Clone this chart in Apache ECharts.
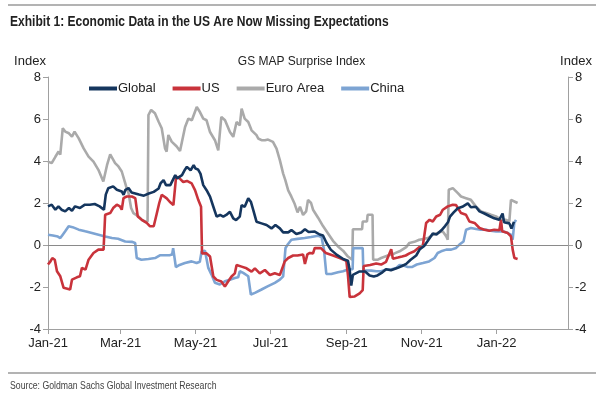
<!DOCTYPE html>
<html>
<head>
<meta charset="utf-8">
<script src="https://cdn.jsdelivr.net/npm/echarts@6/dist/echarts.min.js"></script>
<style>
html,body{margin:0;padding:0;background:#fff;}
#chart{width:603px;height:394px;}
</style>
</head>
<body>
<div id="chart"></div>
<script>
// x values are days since 2021-01-01
const xTickDays = [0, 59, 120, 181, 243, 304, 365];
const xTickLabels = ['Jan-21', 'Mar-21', 'May-21', 'Jul-21', 'Sep-21', 'Nov-21', 'Jan-22'];
const yTicks = [-4, -2, 0, 2, 4, 6, 8];
const seriesNames = ['Global', 'US', 'Euro Area', 'China'];

const globalData = [[0,1.84],[3,1.92],[6,1.68],[8.5,1.84],[11,1.68],[14,1.6],[17,1.76],[19.5,1.63],[22,1.84],[26,1.76],[30,1.92],[34,1.92],[38,1.95],[42,1.84],[45.5,1.68],[47,2.4],[49,2.7],[53,2.79],[56,2.63],[60,2.55],[61.5,2.39],[63,2.63],[65.5,2.71],[68,2.5],[74,2.4],[78,2.35],[82,2.45],[86,2.53],[90,2.69],[91.5,2.93],[94,3.09],[96,2.85],[99.5,2.85],[103.5,3.33],[105,3.17],[109,3.33],[111.5,3.6],[113,3.72],[116,3.56],[118.5,3.8],[120,3.64],[122,3.6],[124,3.4],[126.3,2.85],[129,2.61],[131.8,2.3],[134.5,1.82],[137.2,1.35],[140,1.43],[142.6,1.35],[145,1.43],[148,1.58],[150.7,1.27],[153,1.19],[156,1.35],[157.5,1.9],[160,1.82],[162.9,2.22],[165,2.06],[167,1.66],[169.6,1.11],[173.7,1.03],[177.8,0.95],[181.8,0.79],[185,0.95],[188.6,0.79],[191.3,0.6],[195.4,0.6],[198,0.71],[202,0.52],[206,0.6],[209,0.75],[212,0.62],[217,0.64],[221,0.5],[223.7,0.45],[226.4,0.12],[230,-0.22],[235,-0.47],[240.5,-0.68],[244,-0.75],[245.4,-1.18],[246.7,-1.93],[248,-1.42],[253.5,-1.26],[258,-1.26],[261.6,-1.45],[265,-1.5],[268,-1.45],[272,-1.3],[275,-1.15],[279,-1.2],[284,-1.1],[288,-1.0],[291.4,-0.9],[295,-0.7],[299.5,-0.5],[302.5,-0.2],[306,-0.05],[309,0.2],[313,0.55],[316,0.5],[320,0.7],[323,0.9],[325.5,1.1],[327,1.35],[330,1.55],[333.4,1.75],[337,1.82],[341.5,1.98],[344,1.8],[348,1.82],[351,1.6],[355,1.5],[359,1.38],[363,1.27],[367,1.2],[369.8,1.5],[371,1.08],[375.3,1.03],[377,0.78],[379,1.1]];

const usData = [[0,-0.93],[2,-0.78],[3.5,-0.62],[5.5,-0.7],[7.3,-1.25],[10,-1.49],[12.7,-2.04],[14,-2.12],[18,-2.12],[19.5,-1.65],[23.5,-1.54],[26,-1.49],[27.6,-1.09],[30.5,-1.17],[33,-0.7],[37,-0.38],[41,-0.22],[45.2,-0.22],[46.5,1.44],[50.6,1.52],[53,1.76],[56,1.92],[58.5,1.84],[60,1.68],[61.4,2.23],[64,2.31],[68.2,2.31],[71,2.23],[73,1.36],[76.3,1.2],[80.3,1.05],[83,0.89],[86,0.89],[88.5,1.5],[90.5,2.0],[92.5,2.39],[94,2.45],[96.6,2.22],[99,2.06],[102,1.9],[104.2,3.25],[107,3.17],[110,3.0],[113,3.05],[116.9,2.93],[119.6,2.61],[122.3,2.14],[124.5,1.82],[125.3,-0.4],[129,-0.4],[131.8,-0.55],[134.5,-1.5],[137.2,-1.66],[141,-1.74],[143.9,-1.98],[146.5,-1.74],[149.3,-1.5],[152,-1.35],[153.4,-0.95],[157.5,-1.03],[161.5,-1.11],[165.6,-1.27],[168.3,-1.11],[172.3,-1.35],[176.4,-1.19],[180.5,-1.43],[184.5,-1.35],[188.6,-1.43],[192.6,-0.78],[195.4,-0.62],[199.4,-0.5],[203,-0.5],[207.5,-0.45],[209,-0.9],[211,-0.45],[213,-0.38],[215.6,-0.4],[217,-0.14],[222,-0.15],[226,-0.38],[231.9,-0.5],[237.3,-0.62],[242.7,-0.75],[244,-1.45],[245.4,-2.48],[249.5,-2.45],[253.5,-2.3],[256,-2.15],[256.8,-1.0],[262,-0.95],[267,-0.88],[271,-0.93],[275,-0.8],[279.2,-0.2],[280.5,-0.65],[284.6,-0.6],[288,-0.55],[291,-0.5],[294,-0.4],[298,-0.3],[302.2,-0.1],[305,0.0],[307.6,1.05],[310.4,1.2],[313,1.12],[315.8,1.36],[319,1.44],[321.2,1.68],[325.2,1.84],[329.3,1.92],[332,1.9],[333.4,1.76],[336,1.52],[340,1.44],[342.8,1.12],[347,1.05],[351,0.81],[355,0.73],[359,0.68],[363,0.73],[367.2,0.7],[368.5,1.2],[369.5,0.65],[374,0.57],[376.6,0.41],[378,-0.22],[379.4,-0.62],[382,-0.67]];

const euroData = [[0,3.97],[3,3.9],[6,4.2],[8.6,4.45],[10,4.3],[12,5.56],[14,5.4],[17,5.32],[19.5,5.16],[21.6,5.4],[25,5.08],[29,4.6],[33,4.21],[37,3.97],[41,3.58],[45,3.02],[46.5,2.95],[48,3.8],[50.6,4.32],[52,4.3],[54.6,3.9],[57.3,3.74],[60,3.5],[61.5,3.58],[62.8,2.95],[64,2.7],[65.5,2.47],[67.6,1.76],[69.5,1.52],[73.6,1.36],[76.3,1.2],[79,1.12],[81,1.12],[81.7,6.19],[83.9,6.43],[87,6.27],[90,5.87],[92.5,5.56],[95.2,4.6],[96.5,4.45],[97.9,5.24],[100.6,4.92],[104.7,4.69],[107.4,4.48],[111.5,5.62],[114.2,6.02],[117,5.94],[121,6.57],[123.6,6.33],[126.3,6.02],[129,5.94],[131.8,5.38],[135.8,4.99],[138.5,4.51],[141,6.1],[144,5.94],[148,5.38],[150.7,5.15],[153.4,5.86],[156,5.7],[157.5,6.49],[160,6.02],[162.9,5.86],[165.6,5.46],[169.6,5.23],[171,5.07],[173.7,4.99],[176.5,4.99],[179,5.02],[183,4.91],[185.9,4.59],[188.6,4.04],[191.3,3.4],[193,3.1],[195.4,2.6],[198,2.3],[200.7,1.95],[203,1.55],[205,1.82],[207.5,1.43],[210,1.6],[211.5,2.15],[214,2.0],[215.6,1.68],[219.7,1.3],[223.7,0.9],[227.8,0.55],[231.8,0.2],[235.9,-0.07],[240,-0.27],[244,-0.55],[247.5,-0.7],[248,0.75],[255.5,0.75],[256,1.12],[259.5,1.12],[260,1.44],[264,1.44],[264.5,-0.7],[268.4,-0.7],[271,-0.62],[276.5,-0.5],[281.9,-0.4],[286,-0.3],[291.4,-0.1],[294,0.1],[298,0.15],[302,0.25],[305,0.28],[309,0.33],[313,0.49],[317,0.57],[321,0.65],[324,0.41],[325.2,0.25],[326,2.63],[329.3,2.71],[333.4,2.47],[336,2.31],[340,2.23],[344,2.15],[348,1.84],[352.3,1.6],[356.4,1.52],[360.4,1.44],[364.5,1.36],[368.5,1.2],[372.6,1.2],[375.3,1.12],[376.6,2.15],[379.4,2.07],[382,2.0]];

const chinaData = [[0,0.49],[4,0.45],[8,0.4],[10,0.33],[12,0.49],[14,0.65],[16.8,0.89],[20,0.85],[25,0.73],[30.3,0.65],[35.7,0.57],[41.1,0.49],[46.5,0.41],[52,0.33],[57,0.3],[62.8,0.17],[68.2,0.15],[70.9,0.1],[72.2,-0.62],[76,-0.7],[81.7,-0.67],[87.1,-0.62],[91,-0.49],[99.3,-0.48],[101,-0.45],[101.8,-0.15],[102.8,-0.15],[104,-1.05],[107,-0.95],[111.4,-0.86],[116.8,-0.78],[120.9,-0.86],[123.5,-0.8],[125,-0.3],[127.7,-0.27],[130.4,-1.09],[133,-1.41],[135.8,-1.8],[139.8,-1.88],[143.9,-1.73],[148,-1.65],[152,-1.57],[154.7,-1.54],[156,-1.25],[158.8,-1.33],[162.9,-1.49],[165,-2.36],[168.3,-2.28],[173.7,-2.12],[179,-1.96],[184.5,-1.8],[188.6,-1.65],[191.3,-1.49],[193.2,-0.14],[195.3,0.05],[198,0.25],[203,0.29],[208.8,0.33],[214,0.38],[219.7,0.44],[222.5,0.38],[224.5,-0.22],[226.4,-1.38],[230.5,-1.38],[235.9,-1.3],[240,-1.25],[244,-1.17],[247.8,-1.15],[248.3,-0.15],[256,-0.15],[256.5,-1.2],[263,-1.22],[267,-1.25],[271,-1.25],[275.1,-1.17],[279,-1.17],[283.2,-1.09],[286,-0.95],[288.7,-0.97],[292.7,-1.05],[296,-1.05],[300,-0.93],[305,-0.86],[310,-0.78],[314.4,-0.62],[317,-0.38],[319.8,-0.3],[324,-0.22],[328,-0.22],[332,-0.14],[334.7,0.02],[338,0.17],[340.1,0.73],[344,0.81],[348.2,0.76],[352,0.73],[356.4,0.73],[360,0.68],[364.5,0.65],[370,0.65],[374,0.57],[376.6,0.49],[378,0.25],[379.3,1.05],[380.7,1.2]];

const colors = {Global: '#15365e', US: '#c9333b', 'Euro Area': '#aaaaaa', China: '#7da4d3'};
const FONT = '"Liberation Sans", Arial, sans-serif';

const chart = echarts.init(document.getElementById('chart'), null, {renderer: 'canvas'});

function yAxisCfg(pos) {
  return {
    type: 'value', position: pos, min: yTicks[0], max: yTicks[yTicks.length - 1], interval: 2,
    name: 'Index', nameLocation: 'end', nameGap: 9,
    nameTextStyle: pos === 'left'
      ? {color: '#222', fontSize: 13, fontFamily: FONT, align: 'center', padding: [0, 36, 0, 0]}
      : {color: '#222', fontSize: 13, fontFamily: FONT, align: 'center', padding: [0, 0, 0, 16]},
    axisLine: {show: true, lineStyle: {color: '#a0a0a0', width: 1}},
    axisTick: {show: true, length: 5, lineStyle: {color: '#a0a0a0'}},
    axisLabel: {color: '#222', fontSize: 13, fontFamily: FONT, margin: 7},
    splitLine: {show: false}
  };
}

function lineSeries(name, data, z) {
  return {
    name: name, type: 'line', data: data, showSymbol: false, symbol: 'none',
    lineStyle: {color: colors[name], width: 2.6}, itemStyle: {color: colors[name]},
    z: z, animation: false
  };
}

const euroSeries = lineSeries('Euro Area', euroData, 2);
euroSeries.markLine = {
  silent: true, symbol: 'none', label: {show: false}, animation: false,
  lineStyle: {color: '#8a8a8a', width: 1, type: 'solid'},
  data: [{yAxis: 0}]
};

chart.setOption({
  backgroundColor: '#fff',
  animation: false,
  title: {
    text: 'GS MAP Surprise Index', left: 'center', top: 56, padding: 0,
    textStyle: {fontSize: 12, fontWeight: 'normal', color: '#222', fontFamily: FONT}
  },
  legend: {
    data: seriesNames, left: 89, top: 82, padding: 0, itemGap: 17,
    itemWidth: 28, itemHeight: 4, icon: 'rect',
    textStyle: {fontSize: 13, color: '#222', fontFamily: FONT, padding: [0, 0, 0, -4]}
  },
  grid: {left: 48, right: 35, top: 77, bottom: 65, containLabel: false},
  xAxis: {
    type: 'value', min: 0, max: 423,
    axisLine: {show: true, onZero: false, lineStyle: {color: '#a0a0a0', width: 1}},
    axisTick: {show: true, length: 5, customValues: xTickDays, lineStyle: {color: '#a0a0a0'}},
    axisLabel: {
      customValues: xTickDays, color: '#222', fontSize: 13, fontFamily: FONT, margin: 8,
      formatter: function (v) { const i = xTickDays.indexOf(v); return i >= 0 ? xTickLabels[i] : ''; }
    },
    splitLine: {show: false}
  },
  yAxis: [yAxisCfg('left'), yAxisCfg('right')],
  series: [
    lineSeries('Global', globalData, 5),
    lineSeries('US', usData, 4),
    euroSeries,
    lineSeries('China', chinaData, 3)
  ],
  graphic: [
    {type: 'line', shape: {x1: 8, y1: 5, x2: 596, y2: 5}, style: {stroke: '#9a9a9a', lineWidth: 1.5}},
    {type: 'text', x: 10, y: 22, scaleX: 0.86,
      style: {text: 'Exhibit 1: Economic Data in the US Are Now Missing Expectations',
        font: 'bold 14px "Liberation Sans", Arial, sans-serif', fill: '#222', textVerticalAlign: 'middle'}},
    {type: 'line', shape: {x1: 8, y1: 373, x2: 596, y2: 373}, style: {stroke: '#9a9a9a', lineWidth: 1.5}},
    {type: 'text', x: 10, y: 386, scaleX: 0.87,
      style: {text: 'Source: Goldman Sachs Global Investment Research',
        font: '10px "Liberation Sans", Arial, sans-serif', fill: '#444', textVerticalAlign: 'middle'}}
  ]
});
</script>
</body>
</html>
